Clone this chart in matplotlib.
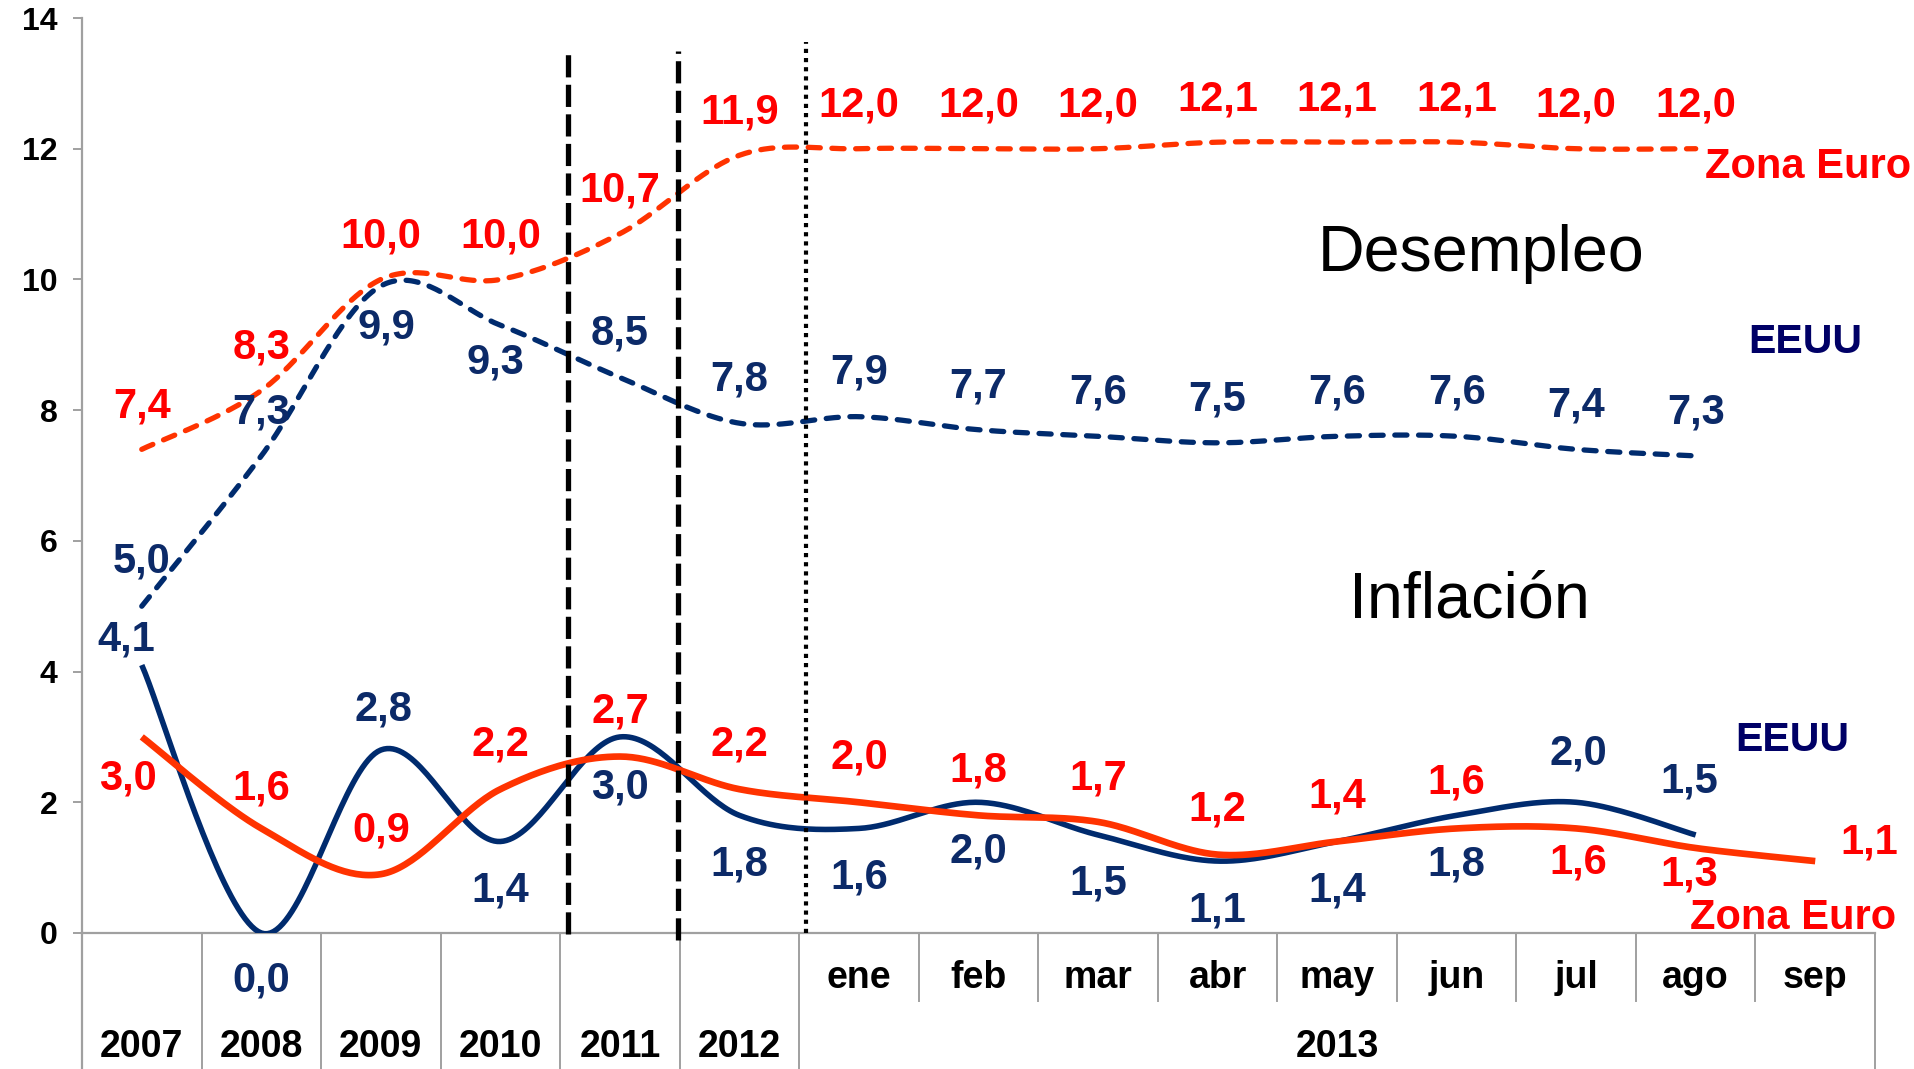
import numpy as np
import matplotlib
matplotlib.use('Agg')
import matplotlib.pyplot as plt
import matplotlib.transforms as mtransforms

plt.rcParams['font.family'] = ['Liberation Sans', 'DejaVu Sans']

# ---------------- data ----------------
categories = ['2007', '2008', '2009', '2010', '2011', '2012',
              'ene', 'feb', 'mar', 'abr', 'may', 'jun', 'jul', 'ago', 'sep']
year_labels = ['2007', '2008', '2009', '2010', '2011', '2012']
month_labels = ['ene', 'feb', 'mar', 'abr', 'may', 'jun', 'jul', 'ago', 'sep']
year_2013 = '2013'

desempleo_euro = [7.4, 8.3, 10.0, 10.0, 10.7, 11.9, 12.0, 12.0, 12.0, 12.1, 12.1, 12.1, 12.0, 12.0]
desempleo_eeuu = [5.0, 7.3, 9.9, 9.3, 8.5, 7.8, 7.9, 7.7, 7.6, 7.5, 7.6, 7.6, 7.4, 7.3]
inflacion_eeuu = [4.1, 0.0, 2.8, 1.4, 3.0, 1.8, 1.6, 2.0, 1.5, 1.1, 1.4, 1.8, 2.0, 1.5]
inflacion_euro = [3.0, 1.6, 0.9, 2.2, 2.7, 2.2, 2.0, 1.8, 1.7, 1.2, 1.4, 1.6, 1.6, 1.3, 1.1]

# label offsets in points (dx, dy)
off_des_euro = [(0, 31)] * 14
off_des_eeuu = [(0, 32), (0, 31.5), (4, -29.6), (-3.5, -26.8)] + [(0, 31.5)] * 10
off_inf_eeuu = [(-11.4, 18.3), (0, -34), (2, 29), (0, -35), (0, -36.7), (0, -35.3), (0, -35.3),
                (0, -35.3), (0, -35.3), (0, -35.7), (0, -35.3), (0, -35.3), (1.5, 35.3), (-4.4, 38.6)]
off_inf_euro = [(-9.7, -29.6), (0, 29), (0, 31.5), (0, 32.5), (0, 32.5), (0, 32.5), (0, 32.5),
                (0, 32.5), (0, 31.5), (0, 32.5), (0, 32.5), (0, 33), (1.5, -24.5), (-4.4, -18.8),
                (38.7, 13.2)]

RED_LINE = '#FF3300'
RED_TXT = '#FF0000'
NAVY_LINE = '#002B6E'
NAVY_TXT = '#0C2A68'
NAVY_NAME = '#000066'
GRAY = '#A0A0A0'


def smooth(vals, n=40):
    y = np.asarray(vals, float)
    P = np.column_stack([np.arange(len(y)), y])
    out = []
    for i in range(len(P) - 1):
        p0 = P[i - 1] if i > 0 else P[i]
        p1, p2 = P[i], P[i + 1]
        p3 = P[i + 2] if i + 2 < len(P) else P[i + 1]
        c1 = p1 + (p2 - p0) / 6.0
        c2 = p2 - (p3 - p1) / 6.0
        t = np.linspace(0, 1, n)[:, None]
        B = ((1 - t) ** 3) * p1 + 3 * ((1 - t) ** 2) * t * c1 + 3 * (1 - t) * t ** 2 * c2 + t ** 3 * p2
        out.append(B if i == len(P) - 2 else B[:-1])
    B = np.vstack(out)
    return B[:, 0], B[:, 1]


W, H = 1915, 1069
fig = plt.figure(figsize=(W / 100, H / 100), dpi=100)
ax_left, ax_right = 82 / W, 1875 / W
ax_bot, ax_top = 1 - 933 / H, 1 - 18 / H
ax = fig.add_axes([ax_left, ax_bot, ax_right - ax_left, ax_top - ax_bot])
ax.set_xlim(-0.5, 14.5)
ax.set_ylim(0, 14)

# lines
x, y = smooth(desempleo_euro)
ax.plot(x, y, color=RED_LINE, lw=3.8, linestyle=(0, (2.3, 2.2)), dash_capstyle='round', zorder=3)
x, y = smooth(desempleo_eeuu)
ax.plot(x, y, color=NAVY_LINE, lw=3.8, linestyle=(0, (2.3, 2.2)), dash_capstyle='round', zorder=3)
x, y = smooth(inflacion_eeuu)
ax.plot(x, y, color=NAVY_LINE, lw=4.0, solid_capstyle='butt', zorder=3)
x, y = smooth(inflacion_euro)
ax.plot(x, y, color=RED_LINE, lw=4.8, solid_capstyle='butt', zorder=4)


def fmt(v):
    return f'{v:.1f}'.replace('.', ',')


def labels(vals, offs, color):
    for i, (v, (dx, dy)) in enumerate(zip(vals, offs)):
        ax.annotate(fmt(v), (i, v), xytext=(dx, dy), textcoords='offset points',
                    ha='center', va='center', fontsize=30, fontweight='bold', color=color,
                    annotation_clip=False, zorder=5)


labels(desempleo_euro, off_des_euro, RED_TXT)
labels(desempleo_eeuu, off_des_eeuu, NAVY_TXT)
labels(inflacion_eeuu, off_inf_eeuu, NAVY_TXT)
labels(inflacion_euro, off_inf_euro, RED_TXT)

# vertical separators (drawn shapes)
ax.plot([3.567, 3.567], [-0.02, 13.53], color='black', lw=3.8, linestyle=(0, (4.2, 1.4)), clip_on=False, zorder=6)
ax.plot([4.486, 4.486], [-0.11, 13.5], color='black', lw=3.8, linestyle=(0, (4.2, 1.4)), clip_on=False, zorder=6)
ax.plot([5.559, 5.559], [0, 13.63], color='black', lw=3.0, linestyle=(0, (1.0, 1.2)), clip_on=False, zorder=6)

# axes styling
for s in ['top', 'right']:
    ax.spines[s].set_visible(False)
for s in ['left', 'bottom']:
    ax.spines[s].set_color(GRAY)
    ax.spines[s].set_linewidth(1.6)
ax.set_yticks(range(0, 15, 2))
ax.set_yticklabels([str(v) for v in range(0, 15, 2)], fontsize=23, fontweight='bold')
ax.tick_params(axis='y', colors=GRAY, labelcolor='black', length=6.5, width=1.4, pad=11)
ax.set_xticks([])

# multi-level category axis
axh = ax.get_position().height * H
def ay(py):
    return (933 - py) / axh

trans = mtransforms.blended_transform_factory(ax.transData, ax.transAxes)
bottom = ay(H)
month_bottom = ay(1001)
ax.plot([-0.5, -0.5], [0, bottom], transform=trans, color=GRAY, lw=1.6, clip_on=False)
for i in range(len(categories)):
    xb = i + 0.5
    short = 6 <= i <= 13
    ax.plot([xb, xb], [0, month_bottom if short else bottom], transform=trans,
            color=GRAY, lw=1.4, clip_on=False)
for i, lab in enumerate(year_labels):
    ax.text(i, ay(1047), lab, transform=trans, ha='center', va='center',
            fontsize=27, fontweight='bold', color='black')
for j, lab in enumerate(month_labels):
    ax.text(6 + j, ay(978), lab, transform=trans, ha='center', va='center',
            fontsize=27, fontweight='bold', color='black')
ax.text((5.5 + 14.5) / 2, ay(1047), year_2013, transform=trans, ha='center', va='center',
        fontsize=27, fontweight='bold', color='black')

# annotations
def ft(px, py, s, **kw):
    fig.text(px / W, 1 - py / H, s, ha='center', va='center', **kw)

ft(1481, 254, 'Desempleo', fontsize=46.5, color='black')
ft(1469, 601, 'Inflación', fontsize=46.5, color='black')
ft(1808, 167, 'Zona Euro', fontsize=30, fontweight='bold', color=RED_TXT)
ft(1805, 342, 'EEUU', fontsize=29.5, fontweight='bold', color=NAVY_NAME)
ft(1792, 740, 'EEUU', fontsize=29.5, fontweight='bold', color=NAVY_NAME)
ft(1793, 918, 'Zona Euro', fontsize=30, fontweight='bold', color=RED_TXT)

fig.savefig('out.png', dpi=100)
